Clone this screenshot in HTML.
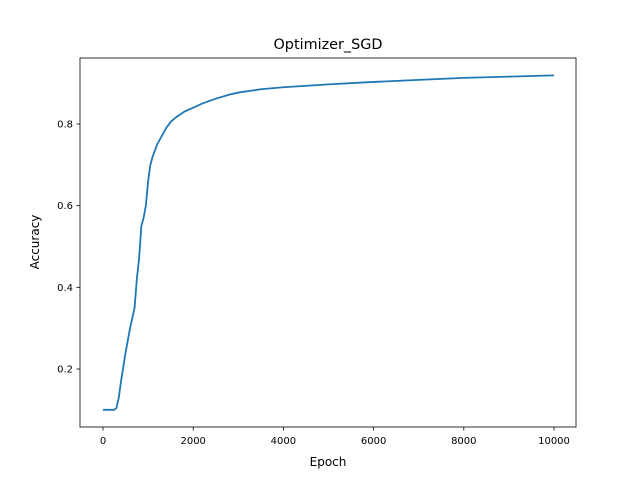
<!DOCTYPE html>
<html><head><meta charset="utf-8"><style>
body{margin:0;background:#fff;}
svg text{font-family:"DejaVu Sans","Liberation Sans",sans-serif;}
</style></head><body>
<svg id="chart" width="640" height="480">
<rect width="640" height="480" fill="#fff"/>
<text x="328" y="49" font-size="14.4" text-anchor="middle">Optimizer_SGD</text>
<g id="axes"></g>
<text x="328" y="466" font-size="12" text-anchor="middle">Epoch</text>
<text transform="translate(39,242) rotate(-90)" font-size="12" text-anchor="middle">Accuracy</text>
</svg>
<script>
const epochs=[0,250,300,350,400,500,600,700,750,800,850,900,950,1000,1050,1100,1200,1300,1400,1500,1600,1800,2000,2200,2500,2800,3000,3500,4000,5000,6000,7000,8000,9000,10000];
const accuracy=[0.1,0.1,0.105,0.13,0.17,0.24,0.3,0.35,0.42,0.47,0.55,0.57,0.6,0.66,0.7,0.72,0.75,0.77,0.79,0.805,0.815,0.83,0.84,0.85,0.862,0.872,0.877,0.885,0.89,0.897,0.903,0.908,0.913,0.916,0.919];
const xTicks=[0,2000,4000,6000,8000,10000];
const yTicks=[0.2,0.4,0.6,0.8];
const L=80,R=576,T=58,B=427;
const xs=v=>103+v*451/10000;
const ys=v=>369-(v-0.2)*(245/0.6);
const NS="http://www.w3.org/2000/svg";
const g=document.getElementById('axes');
function mk(t,a){const e=document.createElementNS(NS,t);for(const k in a)e.setAttribute(k,a[k]);g.appendChild(e);return e;}
const d=epochs.map((e,i)=>(i?'L':'M')+xs(e).toFixed(2)+','+ys(accuracy[i]).toFixed(2)).join('');
const p=mk('path',{d:d,fill:'none',stroke:'#1f77b4','stroke-width':1.8,'stroke-linejoin':'round'});


const fr=mk('rect',{x:L,y:T,width:R-L,height:B-T,fill:'none',stroke:'#000','stroke-width':0.8});


xTicks.forEach(v=>{const x=xs(v);mk('line',{x1:x,x2:x,y1:B,y2:B+3.5,stroke:'#000','stroke-width':0.8});
const t=mk('text',{x:x,y:B+17,'font-size':10,'text-anchor':'middle'});t.textContent=v;

});
yTicks.forEach(v=>{const y=ys(v);mk('line',{x1:L-3.5,x2:L,y1:y,y2:y,stroke:'#000','stroke-width':0.8});
const t=mk('text',{x:L-7,y:y+3.5,'font-size':10,'text-anchor':'end'});t.textContent=v.toFixed(1);

});
</script>
</body></html>
